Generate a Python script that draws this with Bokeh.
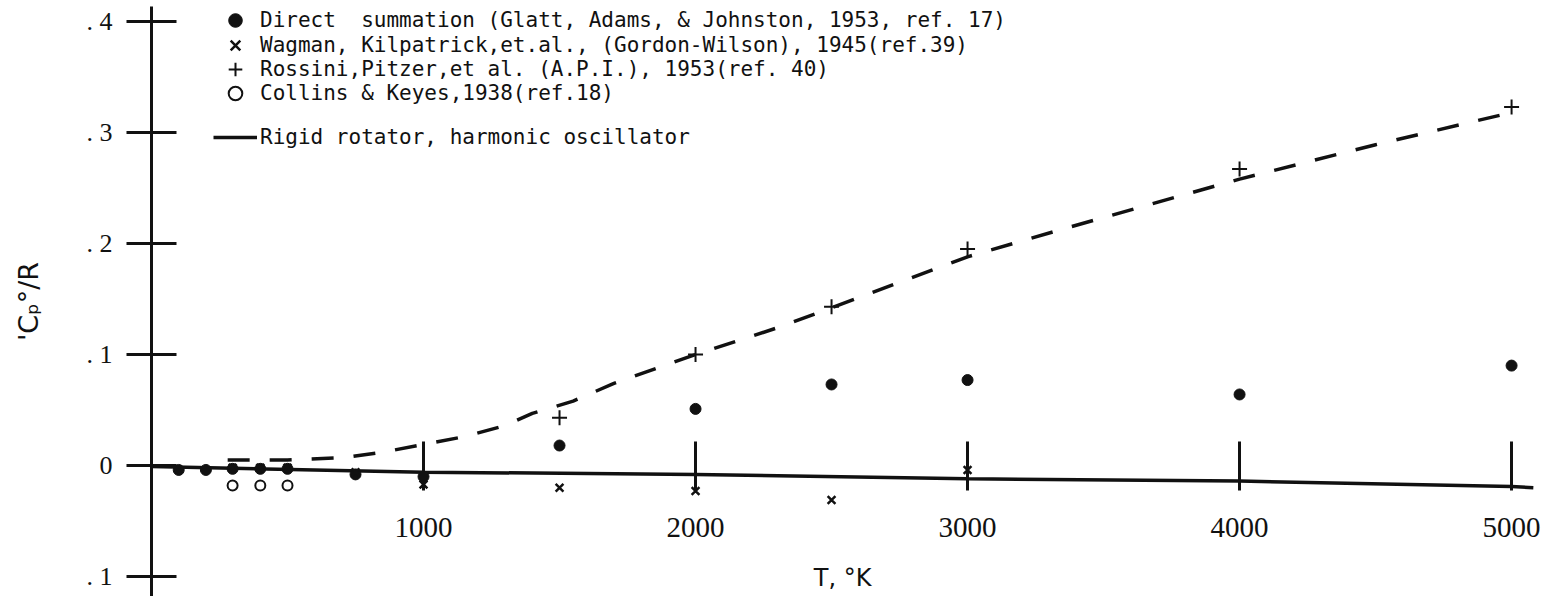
from bokeh.plotting import figure
from bokeh.models import Range1d, FixedTicker, Legend, LegendItem
from bokeh.embed import file_html
from bokeh.resources import INLINE

# ---- data ----
t_direct = [100, 200, 298.16, 400, 500, 750, 1000, 1500, 2000, 2500, 3000, 4000, 5000]
cp_direct = [-0.004, -0.004, -0.003, -0.003, -0.003, -0.008, -0.010, 0.018, 0.051, 0.073, 0.077, 0.064, 0.090]

t_wagman = [298.16, 400, 500, 750, 1000, 1500, 2000, 2500, 3000]
cp_wagman = [-0.002, -0.002, -0.002, -0.006, -0.017, -0.020, -0.023, -0.031, -0.004]

t_rossini = [1500, 2000, 2500, 3000, 4000, 5000]
cp_rossini = [0.043, 0.100, 0.143, 0.195, 0.267, 0.323]

t_collins = [298.16, 400, 500]
cp_collins = [-0.018, -0.018, -0.018]

t_rrho = [0, 1000, 2000, 3000, 4000, 5000, 5080]
cp_rrho = [-0.001, -0.006, -0.008, -0.012, -0.014, -0.019, -0.020]

t_curve = [280, 500, 700, 850, 1000, 1150, 1300, 1400, 1550, 1700, 2000, 2300, 2500, 3000, 3350, 4000, 4500, 5000]
cp_curve = [0.005, 0.005, 0.007, 0.012, 0.019, 0.026, 0.036, 0.047, 0.058, 0.074, 0.100, 0.124, 0.142, 0.188, 0.213, 0.258, 0.289, 0.318]

x_ticks = [1000, 2000, 3000, 4000, 5000]
y_ticks = [-0.1, 0.0, 0.1, 0.2, 0.3, 0.4]
y_tick_labels = [". 1", "0", ". 1", ". 2", ". 3", ". 4"]

labels = [
    "Direct  summation (Glatt, Adams, & Johnston, 1953, ref. 17)",
    "Wagman, Kilpatrick,et.al., (Gordon-Wilson), 1945(ref.39)",
    "Rossini,Pitzer,et al. (A.P.I.), 1953(ref. 40)",
    "Collins & Keyes,1938(ref.18)",
    "Rigid rotator, harmonic oscillator",
]

INK = "#111111"

p = figure(width=1541, height=596, output_backend="svg", toolbar_location=None,
           x_range=Range1d(0, 5110), y_range=Range1d(-0.118, 0.4135),
           min_border_left=151, min_border_right=0, min_border_top=6, min_border_bottom=0,
           background_fill_color="white", border_fill_color="white")
p.outline_line_color = None
p.grid.visible = False

# x axis drawn at y = 0
xa = p.xaxis[0]
xa.fixed_location = 0
xa.ticker = FixedTicker(ticks=x_ticks)
xa.axis_line_color = None
xa.major_tick_in = 24
xa.major_tick_out = 25
xa.major_tick_line_width = 3
xa.major_tick_line_color = INK
xa.minor_tick_line_color = None
xa.major_label_standoff = 27
xa.major_label_text_font = "Liberation Serif"
xa.major_label_text_font_size = "29px"
xa.major_label_text_color = INK
xa.axis_label = "T,  °K"
xa.axis_label_text_font = "DejaVu Sans"
xa.axis_label_text_font_style = "normal"
xa.axis_label_text_font_size = "24px"
xa.axis_label_text_color = INK
xa.axis_label_standoff = 24

ya = p.yaxis[0]
ya.ticker = FixedTicker(ticks=y_ticks)
ya.major_label_overrides = {v: s for v, s in zip(y_ticks, y_tick_labels)}
ya.axis_line_width = 3
ya.axis_line_color = INK
ya.major_tick_in = 25
ya.major_tick_out = 25
ya.major_tick_line_width = 3
ya.major_tick_line_color = INK
ya.minor_tick_line_color = None
ya.major_label_standoff = 14
ya.major_label_text_font = "Liberation Serif"
ya.major_label_text_font_size = "26px"
ya.major_label_text_color = INK
ya.axis_label = "'Cₚ°/R"
ya.axis_label_text_font = "DejaVu Sans"
ya.axis_label_text_font_style = "normal"
ya.axis_label_text_font_size = "27px"
ya.axis_label_text_color = INK
ya.axis_label_standoff = 40

# series
r_rrho = p.line(t_rrho, cp_rrho, line_color=INK, line_width=3.5)
p.line(t_curve, cp_curve, line_color=INK, line_width=3.5, line_dash="22 20")
r_direct = p.scatter(t_direct, cp_direct, marker="circle", size=11, fill_color=INK, line_color=INK)
r_wag = p.scatter(t_wagman, cp_wagman, marker="x", size=11, line_color=INK, line_width=2.5)
r_ross = p.scatter(t_rossini, cp_rossini, marker="cross", size=15, line_color=INK, line_width=2)
r_coll = p.scatter(t_collins, cp_collins, marker="circle", size=10, fill_color="white", line_color=INK, line_width=2)

# one small legend per entry so the rows sit where the reference has them
renderers = [r_direct, r_wag, r_ross, r_coll, r_rrho]
row_centres = [20, 44.5, 68.5, 92.5, 137]      # page y of each row
frame_bottom = 596
glyph_h = 34
for lab, rend, yc in zip(labels, renderers, row_centres):
    lg = Legend(items=[LegendItem(label=lab, renderers=[rend])],
                location=(62, frame_bottom - yc - glyph_h / 2))
    lg.label_text_font = "DejaVu Sans Mono"
    lg.label_text_font_size = "21px"
    lg.label_text_color = INK
    lg.label_standoff = 3
    lg.glyph_width = 44
    lg.glyph_height = glyph_h
    lg.label_height = 24
    lg.spacing = 0
    lg.padding = 0
    lg.margin = 0
    lg.border_line_color = None
    lg.background_fill_alpha = 0
    p.add_layout(lg)

open("out.html", "w").write(file_html(p, INLINE))
